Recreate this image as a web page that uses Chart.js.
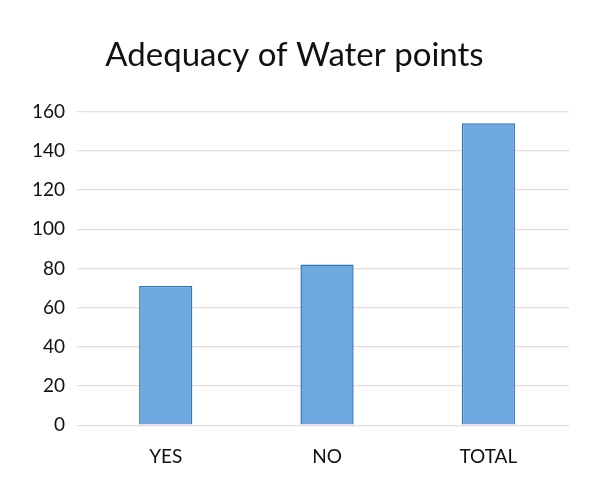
<!DOCTYPE html>
<html>
<head>
<meta charset="utf-8">
<script src="https://cdn.jsdelivr.net/npm/chart.js@4/dist/chart.umd.min.js"></script>
<style>
  html, body { margin: 0; padding: 0; background: #fff; }
  #c { display: block; }
</style>
</head>
<body>
<canvas id="c" width="601" height="484"></canvas>
<script>
const categories = ['YES', 'NO', 'TOTAL'];
const values = [71, 82, 154];
const yTicks = [0, 20, 40, 60, 80, 100, 120, 140, 160];

const ctx = document.getElementById('c').getContext('2d');
new Chart(ctx, {
    type: 'bar',
    data: {
        labels: categories,
        datasets: [{
            data: values,
            backgroundColor: '#6fa8de',
            borderColor: '#2f74c0',
            borderWidth: 1.5,
            barPercentage: 0.66,
            categoryPercentage: 0.5
        }]
    },
    options: {
        responsive: false,
        animation: false,
        layout: { padding: { left: 20, right: 32, top: 36, bottom: 4 } },
        plugins: {
            legend: { display: false },
            tooltip: { enabled: false },
            title: {
                display: true,
                text: 'Adequacy of Water points',
                color: '#111',
                font: { family: 'Lato', size: 33, weight: 'normal' },
                padding: { top: 0, bottom: 36 }
            }
        },
        scales: {
            x: {
                grid: { display: false },
                border: { display: false },
                ticks: { color: '#111', font: { family: 'Lato', size: 19 }, padding: 12 }
            },
            y: {
                min: 0,
                max: 160,
                afterBuildTicks: axis => { axis.ticks = yTicks.map(v => ({ value: v })); },
                grid: { color: '#eadada', lineWidth: 1.2 },
                border: { display: false },
                ticks: { color: '#111', font: { family: 'Lato', size: 19 }, padding: 12 }
            }
        }
    }
});
</script>
</body>
</html>
